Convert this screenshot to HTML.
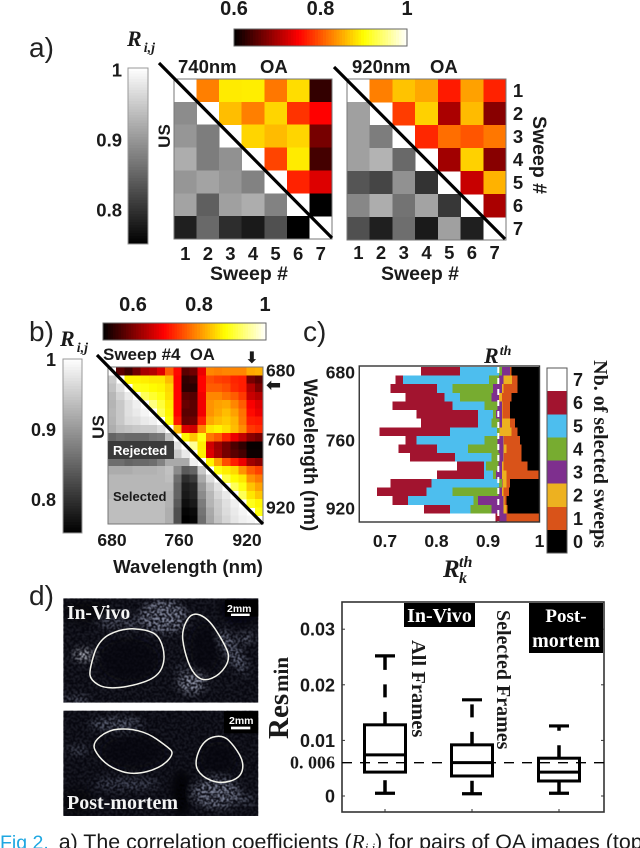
<!DOCTYPE html>
<html lang="en">
<head>
<meta charset="utf-8">
<title>Fig 2 correlation coefficients</title>
<style>
html,body{margin:0;padding:0;background:#fff;}
svg{display:block;}
text{font-family:"Liberation Sans",sans-serif;fill:#1a1a1a;}
.b{font-weight:bold;}
.serif{font-family:"Liberation Serif",serif;font-weight:bold;}
.ri{font-family:"Liberation Serif",serif;font-weight:bold;font-style:italic;}
.panel{font-size:28px;fill:#222;}
.mid{text-anchor:middle;}
.end{text-anchor:end;}
</style>
</head>
<body>
<svg id="fig" xmlns="http://www.w3.org/2000/svg" width="640" height="848" viewBox="0 0 640 848">
<defs>
<filter id="speckle" x="0" y="0" width="100%" height="100%" color-interpolation-filters="sRGB">
<feTurbulence type="fractalNoise" baseFrequency="0.15" numOctaves="3" seed="7"/>
<feColorMatrix type="matrix" values="0 0 0 0 0.02  0 0 0 0 0.02  0 0 0 0 0.05  6 0 0 0 -2.4"/>
<feGaussianBlur stdDeviation="1.2"/>
</filter>
<filter id="soft" x="-40%" y="-40%" width="180%" height="180%"><feGaussianBlur stdDeviation="12"/></filter>
<clipPath id="clipTop"><rect x="190" y="55" width="585" height="313"/></clipPath>
<clipPath id="clipBottom"><rect x="190" y="392" width="585" height="316"/></clipPath>
</defs>

<g id="panelA"></g>
<g id="panelB"></g>
<g id="panelC"></g>

<text class="panel" x="29" y="57">a)</text>
<text class="panel" x="29" y="341">b)</text>
<text class="panel" x="303" y="341">c)</text>
<text class="panel" x="29" y="605">d)</text>

<!-- Panel a text -->
<text class="ri" x="127" y="46" font-size="22">R<tspan class="ri" font-size="14" dx="2" dy="6">i,j</tspan></text>
<text class="b" x="178" y="73" font-size="18.5">740nm</text>
<text class="b" x="260" y="73" font-size="18.5">OA</text>
<text class="b" x="352" y="73" font-size="18.5">920nm</text>
<text class="b" x="430" y="73" font-size="18.5">OA</text>
<text class="b mid" transform="translate(170,136) rotate(-90)" font-size="17">US</text>
<text class="b mid" x="249" y="280" font-size="19.5">Sweep #</text>
<text class="b mid" x="420" y="280" font-size="19.5">Sweep #</text>
<text class="b mid" transform="translate(533,155) rotate(90)" font-size="19.5">Sweep #</text>

<!-- Panel b text -->
<text class="ri" x="60" y="346" font-size="22">R<tspan class="ri" font-size="14" dx="2" dy="6">i,j</tspan></text>
<text class="b" x="103" y="360" font-size="17">Sweep #4</text>
<text class="b" x="190" y="360" font-size="16.5">OA</text>
<text class="b mid" x="252" y="363" font-size="16" style="font-family:'DejaVu Sans',sans-serif">⬇</text>
<text class="b" x="266" y="391" font-size="18" style="font-family:'DejaVu Sans',sans-serif">⬅</text>
<text class="b mid" transform="translate(104,427) rotate(-90)" font-size="17">US</text>
<text class="b mid" x="188" y="573" font-size="18.7">Wavelength (nm)</text>

<!-- Panel c text -->
<text class="ri" x="484" y="363" font-size="22">R<tspan font-size="14" dx="1" dy="-8">th</tspan></text>
<text class="b mid" transform="translate(304,455) rotate(90)" font-size="19">Wavelength (nm)</text>
<text class="ri" x="443" y="577" font-size="25">R</text>
<text class="ri" x="459" y="567" font-size="16">th</text>
<text class="ri" x="459" y="583" font-size="16">k</text>
<text class="serif mid" transform="translate(594,454) rotate(90)" font-size="20">Nb. of selected sweeps</text>

<!-- Panel d ultrasound images -->
<g transform="translate(0,580) scale(0.3333)">
<g clip-path="url(#clipTop)">
<rect x="190" y="55" width="585" height="313" fill="#1d1e28"/>
<g filter="url(#soft)">
<ellipse cx="490" cy="110" rx="70" ry="50" fill="#8c92a8"/>
<ellipse cx="360" cy="130" rx="70" ry="20" fill="#565a6c"/>
<ellipse cx="575" cy="310" rx="40" ry="30" fill="#a0a6ba"/>
<ellipse cx="700" cy="215" rx="22" ry="75" fill="#747a90" transform="rotate(-30 700 215)"/>
<ellipse cx="250" cy="225" rx="28" ry="16" fill="#e4e8f4"/>
<ellipse cx="740" cy="175" rx="30" ry="10" fill="#8c92a8"/>
<ellipse cx="230" cy="358" rx="40" ry="9" fill="#747a90"/>
<ellipse cx="545" cy="268" rx="22" ry="7" fill="#747a90"/>
<ellipse cx="385" cy="240" rx="90" ry="65" fill="#0a0a12"/>
<ellipse cx="615" cy="205" rx="45" ry="75" fill="#0a0a12"/>
<ellipse cx="720" cy="90" rx="60" ry="40" fill="#050508"/>
<ellipse cx="260" cy="95" rx="70" ry="35" fill="#0a0a10"/>
</g>
<rect x="190" y="55" width="585" height="313" filter="url(#speckle)"/>
<rect x="675" y="60" width="100" height="50" fill="#000"/>
</g>
<g clip-path="url(#clipBottom)">
<rect x="190" y="392" width="585" height="316" fill="#1b1c26"/>
<g filter="url(#soft)">
<ellipse cx="350" cy="432" rx="80" ry="18" fill="#6c7286"/>
<ellipse cx="650" cy="640" rx="70" ry="45" fill="#868ca2"/>
<ellipse cx="235" cy="510" rx="35" ry="9" fill="#6c7286"/>
<ellipse cx="380" cy="612" rx="100" ry="20" fill="#4c5062"/>
<ellipse cx="730" cy="660" rx="40" ry="12" fill="#6c7286"/>
<ellipse cx="400" cy="515" rx="95" ry="50" fill="#0a0a12"/>
<ellipse cx="655" cy="535" rx="55" ry="50" fill="#0a0a12"/>
<ellipse cx="545" cy="640" rx="28" ry="70" fill="#030306"/>
<ellipse cx="230" cy="665" rx="50" ry="40" fill="#08080c"/>
</g>
<rect x="190" y="392" width="585" height="316" filter="url(#speckle)"/>
<rect x="672" y="394" width="103" height="66" fill="#000"/>
</g>
<path fill="none" stroke="#f4f4ec" stroke-width="4.5" d="M281.5 225 Q295 180 330 162.5 Q365 145 402.5 146.5 Q440 148 460 159 Q480 170 488.5 202.5 Q497 235 486 262.5 Q475 290 437.5 304 Q400 318 357.5 322.5 Q315 327 293.5 313.5 Q272 300 270 285 Q268 270 281.5 225Z"/>
<path fill="none" stroke="#f4f4ec" stroke-width="4.5" d="M560 122.5 Q575 95 600 105 Q625 115 647.5 150 Q670 185 681 210 Q692 235 676 260 Q660 285 635 295 Q610 305 592.5 290 Q575 275 563.5 242.5 Q552 210 548.5 180 Q545 150 560 122.5Z"/>
<path fill="none" stroke="#f4f4ec" stroke-width="4.5" d="M300 470 Q325 450 355 447.5 Q385 445 415 452.5 Q445 460 470 477.5 Q495 495 510 507.5 Q525 520 502.5 542.5 Q480 565 440 575 Q400 585 367.5 575 Q335 565 315 547.5 Q295 530 285 510 Q275 490 300 470Z"/>
<path fill="none" stroke="#f4f4ec" stroke-width="4.5" d="M596 515 Q610 480 639 471.5 Q668 463 686.5 481.5 Q705 500 719 525 Q733 550 726.5 572.5 Q720 595 690 603.5 Q660 612 632.5 601 Q605 590 593.5 570 Q582 550 596 515Z"/>
<rect x="693" y="101" width="56" height="7" fill="#fff"/>
<rect x="693" y="440" width="58" height="8" fill="#fff"/>
</g>
<text class="serif" x="67" y="619" font-size="19.5" style="fill:#f4f4f4">In-Vivo</text>
<text class="serif" x="67" y="809" font-size="20" style="fill:#f4f4f4">Post-mortem</text>
<text class="b" x="227" y="612" font-size="10.5" style="fill:#fff">2mm</text>
<text class="b" x="229" y="724" font-size="10.5" style="fill:#fff">2mm</text>

<!-- Panel d box plot -->
<g id="panelD"></g>
<text class="serif" transform="translate(288,739) rotate(-90)" font-size="29">Res</text>
<text class="serif" transform="translate(288,692) rotate(-90)" font-size="21">min</text>
<rect x="404" y="603" width="71" height="24" fill="#000"/>
<text class="serif mid" x="439.5" y="622" font-size="20" style="fill:#fff">In-Vivo</text>
<rect x="529" y="603" width="74" height="50" fill="#000"/>
<text class="serif mid" x="566" y="622" font-size="19" style="fill:#fff">Post-</text>
<text class="serif mid" x="566" y="647" font-size="20" style="fill:#fff">mortem</text>
<text class="serif" transform="translate(412,640) rotate(90)" font-size="20.5">All Frames</text>
<text class="serif" transform="translate(497,610) rotate(90)" font-size="20">Selected Frames</text>

<!-- Caption -->
<text x="0" y="849" font-size="21.4"><tspan font-size="19.5" style="fill:#1ea7e1">Fig 2.</tspan><tspan dx="4"> a) The correlation coefficients (</tspan><tspan font-family="Liberation Serif" font-style="italic">R</tspan><tspan font-family="Liberation Serif" font-style="italic" font-size="13" dy="3">i,j</tspan><tspan dy="-3">) for pairs of OA images (top</tspan></text>
</svg>

<script>
/* ---------- Panel a data: correlation coefficients by sweep pair ---------- */
const sweepTicks = [1, 2, 3, 4, 5, 6, 7];
const upper740 = [
  [.825,.888,.89,.82,.88,.63],
  [.862,.825,.875,.78,.75],
  [.875,.86,.875,.67],
  [.79,.888,.64],
  [.77,.73],
  [.60]
];
const lower740 = [
  [.887],
  [.897,.873],
  [.92,.873,.892],
  [.897,.91,.897,.877],
  [.91,.843,.907,.92,.877],
  [.78,.853,.794,.775,.828,.75]
];
const upper920 = [
  [.825,.865,.848,.765,.845,.77],
  [.785,.873,.70,.86,.68],
  [.773,.815,.80,.82],
  [.695,.873,.68],
  [.717,.855],
  [.70]
];
const lower920 = [
  [.907],
  [.907,.873],
  [.907,.925,.853],
  [.833,.818,.892,.80],
  [.882,.92,.863,.91,.804],
  [.828,.78,.858,.775,.907,.78]
];
const hotTicksA = [0.6, 0.8, 1];
const grayTicks = [1, 0.9, 0.8];

/* ---------- Panel b data: wavelength correlation, sweep #4 ---------- */
const wavelengthTicks = [680, 760, 920];
const upperB = [
  [.575,.555,.59,.63,.64,.67,.76,.70,.575,.59,.68,.79,.785,.79,.79,.79,.815,.82],
  [.87,.87,.865,.86,.86,.83,.695,.545,.555,.695,.75,.74,.735,.72,.715,.595,.575],
  [.89,.885,.875,.87,.85,.695,.54,.54,.695,.76,.76,.75,.725,.715,.64,.60],
  [.92,.90,.885,.855,.695,.575,.57,.685,.79,.79,.775,.76,.735,.655,.64],
  [.94,.905,.865,.695,.585,.575,.685,.80,.81,.815,.79,.76,.69,.67],
  [.92,.87,.695,.575,.575,.685,.80,.815,.83,.81,.775,.70,.68],
  [.88,.71,.585,.59,.715,.815,.83,.84,.825,.78,.715,.71],
  [.825,.67,.66,.79,.86,.87,.855,.83,.795,.735,.725],
  [.87,.835,.885,.78,.76,.72,.68,.65,.61,.595],
  [.95,.865,.66,.625,.595,.565,.545,.515,.515],
  [.87,.67,.63,.595,.575,.56,.52,.52],
  [.87,.81,.75,.715,.68,.625,.61],
  [.885,.865,.85,.80,.76,.74],
  [.91,.875,.86,.80,.78],
  [.92,.885,.835,.81],
  [.92,.86,.835],
  [.89,.87],
  [.885]
];
const lowerB = [
  [.95],
  [.94,.97],
  [.93,.956,.98],
  [.927,.947,.97,.985],
  [.93,.947,.97,.98,.99],
  [.927,.947,.966,.97,.98,.985],
  [.922,.937,.942,.947,.95,.95,.966],
  [.85,.86,.855,.855,.855,.865,.87,.937],
  [.82,.82,.82,.82,.82,.82,.84,.913,.97],
  [.83,.825,.825,.825,.825,.83,.85,.908,.947,.98],
  [.86,.86,.85,.855,.855,.86,.879,.917,.917,.917,.985],
  [.92,.92,.92,.925,.925,.925,.93,.94,.888,.84,.85,.947],
  [.93,.93,.93,.93,.93,.93,.93,.937,.86,.797,.81,.917,.966],
  [.93,.93,.93,.93,.93,.93,.93,.93,.85,.782,.79,.898,.942,.97],
  [.93,.93,.93,.93,.93,.93,.93,.925,.85,.777,.787,.888,.93,.96,.98],
  [.937,.937,.937,.937,.937,.937,.937,.925,.84,.768,.777,.873,.927,.95,.97,.985],
  [.937,.937,.937,.937,.937,.937,.937,.922,.83,.758,.763,.865,.917,.947,.966,.98,.99],
  [.937,.937,.937,.937,.937,.937,.937,.922,.83,.753,.758,.86,.913,.942,.96,.976,.985,.99]
];
const hotTicksB = [0.6, 0.8, 1];

/* ---------- Panel c data: R threshold at which the number of selected sweeps drops, per wavelength row ---------- */
const end7Selected = [.770,.720,.711,.740,.715,.761,.770,.689,.740,.726,.749,.840,.801,.711,.684,.715,.776,.915];
const end6Selected = [.846,.735,.801,.816,.831,.881,.881,.826,.761,.801,.836,.892,.892,.790,.781,.745,.826,.922];
const end5Selected = [.921,.902,.831,.846,.893,.910,.907,.917,.893,.861,.907,.896,.910,.921,.831,.872,.866,.922];
const end4Selected = [.927,.921,.910,.907,.918,.916,.922,.922,.918,.920,.922,.920,.916,.927,.920,.881,.907,.922];
const end3Selected = [.943,.930,.927,.921,.927,.927,.927,.922,.930,.930,.930,.927,.927,.928,.927,.930,.930,.936];
const end2Selected = [.943,.947,.930,.927,.928,.928,.943,.946,.931,.936,.931,.930,.936,.936,.930,.932,.936,.936];
const end1Selected = [.946,.957,.957,.946,.943,.943,.952,.957,.962,.965,.965,.977,.998,.943,.941,.936,.938,1.0];
const thresholdR = 0.92;
const xTicksC = [0.7, 0.8, 0.9, 1];
const sweepCounts = [7, 6, 5, 4, 3, 2, 1, 0];
const countColors = ['#ffffff','#a2142f','#4dbeee','#77ac30','#7e2f8e','#edb120','#d95319','#000000'];

/* ---------- Panel d data: box plot statistics ---------- */
const boxCategories = ['All Frames', 'Selected Frames', 'Post-mortem'];
const whiskerHigh = [.0252, .0173, .0126];
const quartile3 = [.0128, .0092, .0068];
const medians = [.0074, .0060, .0043];
const quartile1 = [.0043, .0036, .0027];
const whiskerLow = [.0005, .0004, .0005];
const referenceLevel = 0.006;
const yTicksD = [0, 0.01, 0.02, 0.03];

/* ---------- helpers ---------- */
const NS = 'http://www.w3.org/2000/svg';
function mk(tag, attrs, parent) {
  const el = document.createElementNS(NS, tag);
  for (const k in attrs) el.setAttribute(k, attrs[k]);
  parent.appendChild(el);
  return el;
}
function lerp(a, b, t) { return a + (b - a) * t; }
function hotColor(t) {
  t = Math.max(0, Math.min(1, t));
  const r = Math.min(1, t / .375);
  const g = Math.max(0, Math.min(1, (t - .375) / .375));
  const b = Math.max(0, (t - .75) / .25);
  return 'rgb(' + Math.round(r * 255) + ',' + Math.round(g * 255) + ',' + Math.round(b * 255) + ')';
}
function grayColor(t) {
  const v = Math.round(Math.max(0, Math.min(1, t)) * 255);
  return 'rgb(' + v + ',' + v + ',' + v + ')';
}
function tickText(parent, x, y, str, size, anchor, name) {
  const t = mk('text', {x: x, y: y, 'font-size': size, 'font-weight': 'bold', 'text-anchor': anchor}, parent);
  
  
  t.textContent = str;
  return t;
}
function fmt(v) { return v === 1 ? '1' : v === 0 ? '0' : String(v); }

/* Heatmap: upper triangle in hot colours, lower triangle in gray, white diagonal */
function drawHeatmap(parent, box, upper, lower, hotRange, grayRange, prefix) {
  const n = upper.length + 1;
  const bw = box.w / n, bh = box.h / n;
  const xBand = i => box.x + i * bw;
  const yBand = i => box.y + i * bh;
  const hotT = v => (v - hotRange[0]) / (hotRange[1] - hotRange[0]);
  const grayT = v => (v - grayRange[0]) / (grayRange[1] - grayRange[0]);
  upper.forEach((row, r) => row.forEach((v, c) => {
    const cell = mk('rect', {x: xBand(r + 1 + c), y: yBand(r), width: bw + .3, height: bh + .3, fill: hotColor(hotT(v)), 'shape-rendering': 'crispEdges'}, parent);
    
    
  }));
  lower.forEach((row, r) => row.forEach((v, c) => {
    const cell = mk('rect', {x: xBand(c), y: yBand(r + 1), width: bw + .3, height: bh + .3, fill: grayColor(grayT(v)), 'shape-rendering': 'crispEdges'}, parent);
    
    
  }));
  const frame = mk('rect', {x: box.x, y: box.y, width: box.w, height: box.h, fill: 'none', stroke: '#777', 'stroke-width': 1}, parent);
  
  
}
function drawHotBar(parent, x, y, w, h, name) {
  const steps = 64;
  for (let i = 0; i < steps; i++) {
    const s = mk('rect', {x: x + w * i / steps, y: y, width: w / steps + .4, height: h, fill: hotColor((i + .5) / steps), 'shape-rendering': 'crispEdges'}, parent);
    
    
  }
  const f = mk('rect', {x: x, y: y, width: w, height: h, fill: 'none', stroke: '#666', 'stroke-width': 1}, parent);
  
  
}
function drawGrayBar(parent, x, y, w, h, name) {
  const steps = 64;
  for (let i = 0; i < steps; i++) {
    const s = mk('rect', {x: x, y: y + h * i / steps, width: w, height: h / steps + .4, fill: grayColor(1 - (i + .5) / steps), 'shape-rendering': 'crispEdges'}, parent);
    
    
  }
  const f = mk('rect', {x: x, y: y, width: w, height: h, fill: 'none', stroke: '#999', 'stroke-width': 1}, parent);
  
  
}
function drawDiagonal(parent, x1, y1, x2, y2, name) {
  const d = mk('line', {x1: x1, y1: y1, x2: x2, y2: y2, stroke: '#000', 'stroke-width': 3.2}, parent);
  
  
}

/* ---------- Panel a ---------- */
const gA = document.getElementById('panelA');
const boxA1 = {x: 174, y: 79, w: 158, h: 160};
const boxA2 = {x: 347, y: 79, w: 159, h: 161};
drawHeatmap(gA, boxA1, upper740, lower740, [.6, 1], [.75, 1], 'heatmap-740nm');
drawHeatmap(gA, boxA2, upper920, lower920, [.6, 1], [.75, 1], 'heatmap-920nm');
drawDiagonal(gA, 159, 63, 332, 238, 'diagonal-740nm');
drawDiagonal(gA, 334, 67, 505, 239, 'diagonal-920nm');
drawHotBar(gA, 234, 29, 173, 17, 'oa-colorbar-a');
drawGrayBar(gA, 128, 68, 20, 176, 'us-colorbar-a');
const xHotA = v => lerp(234, 407, (v - .6) / .4);
hotTicksA.forEach(v => tickText(gA, xHotA(v), 15, fmt(v), 20, 'middle', 'oa-colorbar-a-tick'));
const yGrayA = v => lerp(70, 210, (1 - v) / .2);
grayTicks.forEach(v => tickText(gA, 122, yGrayA(v) + 6.5, fmt(v), 18.5, 'end', 'us-colorbar-a-tick'));
sweepTicks.forEach((s, i) => {
  tickText(gA, boxA1.x + (i + .5) * boxA1.w / 7, 260, fmt(s), 18.5, 'middle', 'x-tick-740');
  tickText(gA, boxA2.x + (i + .5) * boxA2.w / 7, 259, fmt(s), 18.5, 'middle', 'x-tick-920');
  tickText(gA, 518, boxA2.y + (i + .5) * boxA2.h / 7 + 6.5, fmt(s), 18.5, 'middle', 'y-tick-920');
});

/* ---------- Panel b ---------- */
const gB = document.getElementById('panelB');
const boxB = {x: 108, y: 367, w: 155, h: 157};
drawHeatmap(gB, boxB, upperB, lowerB, [.51, 1], [.753, 1], 'heatmap-sweep-4');
const rejBg = mk('rect', {x: 108, y: 441, width: 66, height: 18, fill: '#3a3a3a'}, gB);


const rej = tickText(gB, 113, 455, 'Rejected', 13, 'start', 'rejected-label');
rej.setAttribute('fill', '#fff');
rej.style.fill = '#fff';
tickText(gB, 113, 501, 'Selected', 13, 'start', 'selected-label');
drawDiagonal(gB, 97, 355, 263, 524, 'diagonal-sweep-4');
drawHotBar(gB, 103, 323, 163, 17, 'oa-colorbar-b');
drawGrayBar(gB, 63, 359, 19, 174, 'us-colorbar-b');
const xHotB = v => lerp(133, 265, (v - .6) / .4);
hotTicksB.forEach(v => tickText(gB, xHotB(v), 311, fmt(v), 20, 'middle', 'oa-colorbar-b-tick'));
const yGrayB = v => lerp(360, 500, (1 - v) / .2);
grayTicks.forEach(v => tickText(gB, 56, yGrayB(v) + 6, fmt(v), 18, 'end', 'us-colorbar-b-tick'));
const xTickB = [112, 179, 247];
wavelengthTicks.forEach((w, i) => {
  tickText(gB, xTickB[i], 546, fmt(w), 17.5, 'middle', 'x-tick-b');
});
const yTickB = [370, 439, 507];
wavelengthTicks.forEach((w, i) => {
  tickText(gB, 266, yTickB[i] + 6.5, fmt(w), 17.5, 'start', 'y-tick-b');
});

/* ---------- Panel c ---------- */
const gC = document.getElementById('panelC');
const xC = v => 385 + (v - .7) * 515;
const rowsC = end7Selected.length;
const yTopC = 367, rowH = 155 / rowsC;
const yC = i => yTopC + i * rowH;
const seriesC = [end7Selected, end6Selected, end5Selected, end4Selected, end3Selected, end2Selected, end1Selected];
for (let r = 0; r < rowsC; r++) {
  let start = .65;
  seriesC.forEach((ends, k) => {
    const seg = mk('rect', {x: xC(start), y: yC(r), width: Math.max(0, xC(ends[r]) - xC(start)), height: rowH + .3, fill: countColors[k], 'shape-rendering': 'crispEdges'}, gC);
    
    
    start = ends[r];
  });
  const last = mk('rect', {x: xC(start), y: yC(r), width: Math.max(0, xC(1) - xC(start)), height: rowH + .3, fill: countColors[7], 'shape-rendering': 'crispEdges'}, gC);
  
  
}
const thLine = mk('line', {x1: xC(thresholdR), x2: xC(thresholdR), y1: 367, y2: 522, stroke: '#fff', 'stroke-width': 2, 'stroke-dasharray': '6 5'}, gC);


const frameC = mk('rect', {x: xC(.65), y: 366, width: xC(1) - xC(.65), height: 156, fill: 'none', stroke: '#333', 'stroke-width': 1.4}, gC);


xTicksC.forEach(v => tickText(gC, xC(v), 547, fmt(v), 17.5, 'middle', 'x-tick-c'));
const yTickC = [372, 440, 508];
wavelengthTicks.forEach((w, i) => tickText(gC, 355, yTickC[i] + 6.5, fmt(w), 17.5, 'end', 'y-tick-c'));
const legH = 185 / sweepCounts.length;
sweepCounts.forEach((count, i) => {
  const sw = mk('rect', {x: 547, y: 368 + i * legH, width: 20, height: legH + .3, fill: countColors[i], 'shape-rendering': 'crispEdges'}, gC);
  
  
  tickText(gC, 578, 368 + (i + .5) * legH + 6.5, fmt(count), 18, 'middle', 'colorbar-c-tick');
});
const frameLeg = mk('rect', {x: 547, y: 368, width: 20, height: 185, fill: 'none', stroke: '#555', 'stroke-width': 1}, gC);



/* ---------- Panel d ---------- */
const gD = document.getElementById('panelD');
const yD = v => 796 - v * 5560;
const xD = i => 385 + i * 87;
const plotD = {x1: 342, x2: 604, y1: 602, y2: 812};
const frameD = mk('rect', {x: plotD.x1, y: plotD.y1, width: plotD.x2 - plotD.x1, height: plotD.y2 - plotD.y1, fill: 'none', stroke: '#333', 'stroke-width': 1.6}, gD);


yTicksD.forEach(v => {
  const a = mk('line', {x1: plotD.x1, x2: plotD.x1 + 3, y1: yD(v), y2: yD(v), stroke: '#333', 'stroke-width': 1}, gD);
  
  
  const b = mk('line', {x1: plotD.x2 - 3, x2: plotD.x2, y1: yD(v), y2: yD(v), stroke: '#333', 'stroke-width': 1}, gD);
  
  
  tickText(gD, 335, yD(v) + 6.5, fmt(v), 18, 'end', 'y-tick-label-d');
});
const refLabel = tickText(gD, 335, yD(referenceLevel) + 6, '0. 006', 18, 'end', 'reference-level-label');
refLabel.style.fontFamily = '"Liberation Serif", serif';
const refLine = mk('line', {x1: plotD.x1, x2: plotD.x2, y1: yD(referenceLevel), y2: yD(referenceLevel), stroke: '#000', 'stroke-width': 1.4, 'stroke-dasharray': '10 8'}, gD);


boxCategories.forEach((cat, i) => {
  const cx = xD(i), bw = 41, cw = 20;
  const tickB = mk('line', {x1: cx, x2: cx, y1: plotD.y2 - 3, y2: plotD.y2, stroke: '#333', 'stroke-width': 1}, gD);
  
  
  const whiskUp = mk('line', {x1: cx, x2: cx, y1: yD(quartile3[i]), y2: yD(whiskerHigh[i]), stroke: '#000', 'stroke-width': 3.5, 'stroke-dasharray': '13 14.5'}, gD);
  
  
  const whiskDn = mk('line', {x1: cx, x2: cx, y1: yD(whiskerLow[i]), y2: yD(quartile1[i]), stroke: '#000', 'stroke-width': 3.5, 'stroke-dasharray': '13 14'}, gD);
  
  
  const capHi = mk('line', {x1: cx - cw / 2, x2: cx + cw / 2, y1: yD(whiskerHigh[i]), y2: yD(whiskerHigh[i]), stroke: '#000', 'stroke-width': 3.2}, gD);
  
  
  const capLo = mk('line', {x1: cx - cw / 2, x2: cx + cw / 2, y1: yD(whiskerLow[i]), y2: yD(whiskerLow[i]), stroke: '#000', 'stroke-width': 3.2}, gD);
  
  
  const box = mk('rect', {x: cx - bw / 2, y: yD(quartile3[i]), width: bw, height: yD(quartile1[i]) - yD(quartile3[i]), fill: 'none', stroke: '#000', 'stroke-width': 3}, gD);
  
  
  const med = mk('line', {x1: cx - bw / 2, x2: cx + bw / 2, y1: yD(medians[i]), y2: yD(medians[i]), stroke: '#000', 'stroke-width': 3}, gD);
  
  
});
</script>
</body>
</html>
